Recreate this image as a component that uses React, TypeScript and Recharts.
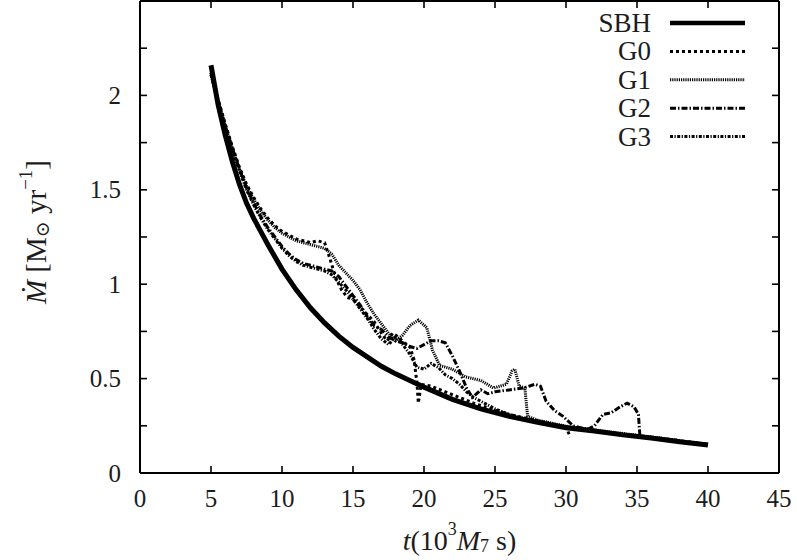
import { LineChart, Line, XAxis, YAxis, Legend, Label } from "recharts";

// accretion rate curves, t in 10^3 M7 s, Mdot in Msun/yr
const sbhT = [5, 5.5, 6, 6.5, 7, 7.5, 8, 8.5, 9, 10, 11, 12, 13, 14, 15, 16, 17, 18, 19, 20, 22, 24, 26, 28, 30, 32, 34, 36, 38, 40];
const sbhM = [2.16, 1.95, 1.79, 1.65, 1.53, 1.43, 1.35, 1.28, 1.21, 1.08, 0.97, 0.875, 0.795, 0.725, 0.665, 0.615, 0.565, 0.525, 0.49, 0.455, 0.39, 0.34, 0.3, 0.268, 0.24, 0.222, 0.202, 0.185, 0.166, 0.148];

const g0T = [5, 5.5, 6, 6.5, 7, 7.5, 8, 8.5, 9, 9.5, 10, 10.5, 11, 11.5, 12, 12.5, 13, 13.4, 13.8, 14.2, 14.6, 15, 15.5, 16, 16.5, 17, 17.4, 17.8, 18.2, 18.6, 19, 19.3, 19.5, 19.6, 19.8, 20.5, 21.5, 22.5, 23.5, 24.5, 26, 27.5, 29, 30, 30.3];
const g0M = [2.12, 1.98, 1.85, 1.73, 1.62, 1.53, 1.46, 1.4, 1.35, 1.31, 1.28, 1.26, 1.24, 1.23, 1.22, 1.23, 1.22, 1.13, 1.03, 0.97, 0.93, 0.92, 0.88, 0.84, 0.8, 0.74, 0.7, 0.74, 0.72, 0.69, 0.67, 0.6, 0.48, 0.37, 0.47, 0.46, 0.43, 0.4, 0.37, 0.345, 0.31, 0.285, 0.26, 0.245, 0.19];

const g1T = [5, 5.5, 6, 6.5, 7, 7.5, 8, 8.5, 9, 9.5, 10, 10.5, 11, 11.5, 12, 12.5, 13, 13.5, 14, 14.5, 15, 15.5, 16, 16.5, 17, 17.5, 18, 18.5, 19, 19.6, 20.2, 20.6, 21.1, 22, 22.9, 24, 24.9, 25.8, 26.2, 26.4, 26.7, 27.1, 27.3, 28, 30, 32, 35, 38];
const g1M = [2.11, 1.97, 1.84, 1.72, 1.61, 1.52, 1.45, 1.39, 1.34, 1.3, 1.27, 1.25, 1.23, 1.22, 1.21, 1.2, 1.19, 1.16, 1.1, 1.06, 1.02, 0.97, 0.9, 0.84, 0.79, 0.74, 0.7, 0.73, 0.78, 0.81, 0.77, 0.65, 0.57, 0.55, 0.51, 0.49, 0.45, 0.47, 0.54, 0.55, 0.46, 0.45, 0.3, 0.28, 0.248, 0.228, 0.2, 0.172];

const g2T = [5, 5.5, 6, 6.5, 7, 7.5, 8, 8.5, 9, 9.5, 10, 10.5, 11, 11.5, 12, 12.5, 13, 13.5, 14, 14.5, 15, 15.5, 16, 16.5, 17, 17.5, 18, 18.5, 19, 19.5, 20, 20.5, 21, 21.5, 22, 22.5, 23, 23.4, 24, 24.5, 25, 26, 27, 27.8, 28.2, 28.6, 29.2, 29.8, 30.5, 31.5, 32, 32.6, 33.2, 33.8, 34.3, 34.8, 35.1, 35.2];
const g2M = [2.12, 1.97, 1.84, 1.72, 1.61, 1.51, 1.43, 1.36, 1.3, 1.25, 1.2, 1.16, 1.13, 1.11, 1.1, 1.09, 1.08, 1.07, 1.04, 0.99, 0.94, 0.89, 0.83, 0.78, 0.76, 0.72, 0.7, 0.69, 0.67, 0.66, 0.68, 0.7, 0.7, 0.69, 0.62, 0.54, 0.45, 0.4, 0.44, 0.42, 0.43, 0.44, 0.45, 0.47, 0.46, 0.38, 0.33, 0.3, 0.25, 0.23, 0.25, 0.31, 0.32, 0.35, 0.37, 0.35, 0.31, 0.2];

const g3T = [5, 5.5, 6, 6.5, 7, 7.5, 8, 8.5, 9, 9.5, 10, 10.5, 11, 11.5, 12, 12.5, 13, 13.5, 14, 14.5, 15, 15.5, 16, 16.5, 17, 17.5, 18, 18.5, 19, 19.5, 20, 20.5, 21, 21.5, 22, 22.5, 23, 23.5, 24, 24.5, 25, 26, 27, 28, 29, 30, 31, 32, 34, 36, 38, 40];
const g3M = [2.11, 1.96, 1.83, 1.71, 1.6, 1.5, 1.42, 1.35, 1.29, 1.24, 1.19, 1.15, 1.12, 1.1, 1.09, 1.08, 1.07, 1.05, 1.01, 0.97, 0.92, 0.87, 0.82, 0.76, 0.71, 0.68, 0.72, 0.68, 0.63, 0.56, 0.55, 0.58, 0.56, 0.52, 0.5, 0.47, 0.43, 0.4, 0.38, 0.36, 0.34, 0.31, 0.29, 0.275, 0.26, 0.245, 0.236, 0.226, 0.206, 0.19, 0.171, 0.153];

const xTicks = [0, 5, 10, 15, 20, 25, 30, 35, 40, 45];
const yTicks = [0, 0.25, 0.5, 0.75, 1, 1.25, 1.5, 1.75, 2, 2.25, 2.5];
const yLabelled = [0, 0.5, 1, 1.5, 2];

const FONT = "'Liberation Serif', 'DejaVu Serif', serif";
const INK = "#1c1c1c";

const rows = (t: number[], m: number[]) => t.map((v, i) => ({ t: v, m: m[i] }));

const series = [
  { name: "SBH", data: rows(sbhT, sbhM), width: 5, dash: undefined as string | undefined },
  { name: "G0", data: rows(g0T, g0M), width: 3, dash: "3 3" },
  { name: "G1", data: rows(g1T, g1M), width: 3, dash: "1.2 1" },
  { name: "G2", data: rows(g2T, g2M), width: 3, dash: "6 2 1.5 2" },
  { name: "G3", data: rows(g3T, g3M), width: 3, dash: "3 1.5 1.2 1.5" },
];

const BottomTick = (p: any) => (
  <g>
    <line x1={p.x} y1={p.y} x2={p.x} y2={p.y - 7} stroke="#000" strokeWidth={1.6} />
    <text x={p.x} y={p.y + 25} textAnchor="middle" dominantBaseline="central" fontFamily={FONT} fontSize={25} fill={INK}>
      {p.payload.value}
    </text>
  </g>
);

const TopTick = (p: any) => (
  <line x1={p.x} y1={p.y} x2={p.x} y2={p.y + 7} stroke="#000" strokeWidth={1.6} />
);

const LeftTick = (p: any) => (
  <g>
    <line x1={p.x} y1={p.y} x2={p.x + 7} y2={p.y} stroke="#000" strokeWidth={1.6} />
    {yLabelled.includes(p.payload.value) && (
      <text x={p.x - 19} y={p.y} textAnchor="end" dominantBaseline="central" fontFamily={FONT} fontSize={25} fill={INK}>
        {p.payload.value}
      </text>
    )}
  </g>
);

const RightTick = (p: any) => (
  <line x1={p.x} y1={p.y} x2={p.x - 7} y2={p.y} stroke="#000" strokeWidth={1.6} />
);

const XTitle = (p: any) => {
  const vb = p.viewBox;
  return (
    <text x={vb.x + vb.width / 2} y={473 + 67} textAnchor="middle" dominantBaseline="central" fontFamily={FONT} fontSize={28} fill={INK}>
      <tspan fontStyle="italic">t</tspan>
      <tspan>(10</tspan>
      <tspan dy={-11} fontSize={18}>3</tspan>
      <tspan dy={11} fontStyle="italic">M</tspan>
      <tspan dy={6} fontSize={18}>7</tspan>
      <tspan dy={-6}> s)</tspan>
    </text>
  );
};

const YTitle = () => {
  const cx = 36;
  const cy = 232;
  return (
    <text x={cx} y={cy} transform={`rotate(-90, ${cx}, ${cy})`} textAnchor="middle" dominantBaseline="central" fontFamily={FONT} fontSize={29} fill={INK}>
      <tspan fontStyle="italic">Ṁ</tspan>
      <tspan> [M</tspan>
      <tspan dy={6} fontSize={19}>⊙</tspan>
      <tspan dy={-6}> yr</tspan>
      <tspan dy={-11} fontSize={19}>−1</tspan>
      <tspan dy={11}>]</tspan>
    </text>
  );
};

const LegendBox = () => (
  <svg width={797} height={160} style={{ position: "absolute", left: 0, top: 0, overflow: "visible" }}>
    {series.map((s, i) => {
      const y = 23 + i * 28.4;
      return (
        <g key={s.name}>
          <text x={651} y={y} textAnchor="end" dominantBaseline="central" fontFamily={FONT} fontSize={27} fill={INK}>
            {s.name}
          </text>
          <line x1={670} y1={y} x2={745} y2={y} stroke="#000" strokeWidth={s.width === 5 ? 4.5 : 3} strokeDasharray={s.dash} />
        </g>
      );
    })}
  </svg>
);

export default function App() {
  return (
    <div style={{ position: "absolute", left: 0, top: 0, background: "#fff" }}>
      <LineChart width={797} height={560} margin={{ top: 0, right: 17, bottom: 86, left: 139 }}>
        <XAxis xAxisId="b" type="number" dataKey="t" domain={[0, 45]} ticks={xTicks} height={1} tickSize={0} tickMargin={0}
          axisLine={{ stroke: "#000", strokeWidth: 2 }} tickLine={false} tick={<BottomTick />} allowDataOverflow interval={0}>
          <Label content={<XTitle />} />
        </XAxis>
        <XAxis xAxisId="t" orientation="top" type="number" dataKey="t" domain={[0, 45]} ticks={xTicks} height={1} tickSize={0} tickMargin={0}
          axisLine={{ stroke: "#000", strokeWidth: 2 }} tickLine={false} tick={<TopTick />} allowDataOverflow interval={0} />
        <YAxis yAxisId="l" type="number" domain={[0, 2.5]} ticks={yTicks} width={1} tickSize={0} tickMargin={0}
          axisLine={{ stroke: "#000", strokeWidth: 2 }} tickLine={false} tick={<LeftTick />} allowDataOverflow interval={0}>
          <Label content={<YTitle />} />
        </YAxis>
        <YAxis yAxisId="r" orientation="right" type="number" domain={[0, 2.5]} ticks={yTicks} width={1} tickSize={0} tickMargin={0}
          axisLine={{ stroke: "#000", strokeWidth: 2 }} tickLine={false} tick={<RightTick />} allowDataOverflow interval={0} />
        <Legend content={<LegendBox />} wrapperStyle={{ position: "absolute", left: 0, top: 0, width: 0, height: 0 }} />
        {series.map((s) => (
          <Line key={s.name} xAxisId="b" yAxisId="l" data={s.data} dataKey="m" name={s.name} type="linear"
            stroke="#000" strokeWidth={s.width} strokeDasharray={s.dash} dot={false} activeDot={false} isAnimationActive={false} />
        ))}
      </LineChart>
    </div>
  );
}
